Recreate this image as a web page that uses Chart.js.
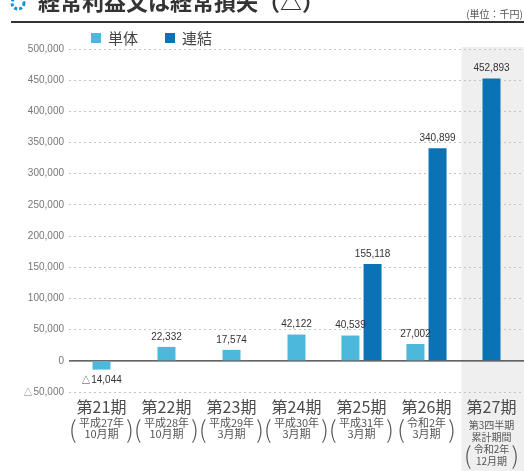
<!DOCTYPE html>
<html lang="ja">
<head>
<meta charset="utf-8">
<script src="https://cdn.jsdelivr.net/npm/chart.js@4.4.1/dist/chart.umd.min.js"></script>
<style>
  html, body { margin: 0; padding: 0; background: #fff; }
</style>
</head>
<body>
<canvas id="keijo" width="524" height="471"></canvas>
<script>
const kiLabels = ['第21期', '第22期', '第23期', '第24期', '第25期', '第26期', '第27期'];
const kiNotes = [
  ['平成27年', '10月期'],
  ['平成28年', '10月期'],
  ['平成29年', '3月期'],
  ['平成30年', '3月期'],
  ['平成31年', '3月期'],
  ['令和2年', '3月期'],
  ['令和2年', '12月期']
];
const kiNotePrefix = ['第3四半期', '累計期間']; // 第27期だけ上に2行
const tantai = [-14044, 22332, 17574, 42122, 40539, 27002, null];
const renketsu = [null, null, null, null, 155118, 340899, 452893];
const seriesNames = ['単体', '連結'];
const seriesColors = ['#4cb9dc', '#0b72b5'];
const yMin = -50000, yMax = 500000, yStep = 50000;

const JP = '"Noto Sans CJK JP", "Noto Sans", sans-serif';
const NUM = '"Liberation Sans", Arial, sans-serif';

const fmt = v => (v < 0 ? '△' : '') + Math.abs(v).toLocaleString('en-US');

// 見出し・凡例・期ラベル・網掛け・0線・数値ラベル
const decor = {
  id: 'decor',
  beforeDraw(chart) {
    const { ctx } = chart;
    const xs = chart.scales.x;
    // 第27期の網掛け
    const x0 = xs.getPixelForValue(6) - 30;
    ctx.save();
    ctx.fillStyle = '#efefef';
    ctx.fillRect(x0, 47, chart.width - x0, chart.height - 47);
    ctx.restore();
  },
  beforeDatasetsDraw(chart) {
    const { ctx, chartArea } = chart;
    const y = chart.scales.y.getPixelForValue(0);
    ctx.save();
    ctx.strokeStyle = '#333';
    ctx.lineWidth = 1.2;
    ctx.beginPath();
    ctx.moveTo(chartArea.left, y);
    ctx.lineTo(chartArea.right, y);
    ctx.stroke();
    ctx.restore();
  },
  afterDatasetsDraw(chart) {
    const { ctx } = chart;
    ctx.save();
    ctx.font = '10px ' + NUM;
    ctx.fillStyle = '#333';
    ctx.textAlign = 'center';
    chart.data.datasets.forEach((ds, di) => {
      const meta = chart.getDatasetMeta(di);
      ds.data.forEach((v, i) => {
        if (v === null) return;
        const el = meta.data[i];
        if (v >= 0) {
          ctx.textBaseline = 'bottom';
          ctx.fillText(fmt(v), el.x, el.y - 5);
        } else {
          ctx.textBaseline = 'top';
          ctx.fillText(fmt(v), el.x, el.y + 6);
        }
      });
    });
    ctx.restore();
  },
  afterDraw(chart) {
    const { ctx } = chart;
    const xs = chart.scales.x;
    ctx.save();

    // タイトル
    ctx.strokeStyle = '#1a8fd1';
    ctx.lineWidth = 3;
    ctx.setLineDash([3, 2]);
    ctx.beginPath();
    ctx.arc(18, 3, 6, 0, Math.PI * 2);
    ctx.stroke();
    ctx.setLineDash([]);
    ctx.fillStyle = '#333';
    ctx.font = 'bold 22px ' + JP;
    ctx.textBaseline = 'ideographic';
    ctx.textAlign = 'left';
    ctx.fillText('経常利益又は経常損失（△）', 38, 13);

    ctx.font = '10px ' + JP;
    ctx.fillStyle = '#555';
    ctx.textAlign = 'right';
    ctx.textBaseline = 'middle';
    ctx.fillText('(単位：千円)', 523, 14);

    ctx.strokeStyle = '#333';
    ctx.lineWidth = 2;
    ctx.beginPath();
    ctx.moveTo(11, 22);
    ctx.lineTo(524, 22);
    ctx.stroke();

    // 凡例
    ctx.font = '15px ' + JP;
    ctx.textAlign = 'left';
    ctx.textBaseline = 'middle';
    [91, 165].forEach((lx, k) => {
      ctx.fillStyle = seriesColors[k];
      ctx.fillRect(lx, 33, 10, 10);
      ctx.fillStyle = '#444';
      ctx.fillText(seriesNames[k], lx + 17, 38);
    });

    // 期ラベル
    ctx.textAlign = 'center';
    kiLabels.forEach((lab, i) => {
      const cx = xs.getPixelForValue(i);
      ctx.fillStyle = '#4a4a4a';
      ctx.font = '16px ' + JP;
      ctx.fillText(lab, cx, 407);

      let lines = kiNotes[i], top = 423, step = 11, size = 11;
      if (i === 6) {
        ctx.fillStyle = '#555';
        ctx.font = '10px ' + JP;
        ctx.fillText(kiNotePrefix[0], cx, 425);
        ctx.fillText(kiNotePrefix[1], cx, 437);
        top = 449; step = 12; size = 10;
      }
      ctx.fillStyle = '#555';
      ctx.font = size + 'px ' + JP;
      ctx.fillText(lines[0], cx, top);
      ctx.fillText(lines[1], cx, top + step);
      const w = Math.max(ctx.measureText(lines[0]).width, ctx.measureText(lines[1]).width);
      ctx.font = '200 24px ' + JP;
      ctx.fillText('(', cx - w / 2 - 6, top + step / 2);
      ctx.fillText(')', cx + w / 2 + 6, top + step / 2);
    });
    ctx.restore();
  }
};

new Chart(document.getElementById('keijo'), {
  type: 'bar',
  data: {
    labels: kiLabels,
    datasets: [
      { label: seriesNames[0], data: tantai, backgroundColor: seriesColors[0] },
      { label: seriesNames[1], data: renketsu, backgroundColor: seriesColors[1] }
    ]
  },
  options: {
    responsive: false,
    animation: false,
    layout: { padding: { top: 49, bottom: 79, left: 0, right: 0 } },
    datasets: {
      bar: {
        skipNull: true,
        categoryPercentage: 0.68,
        barPercentage: 0.82,
        maxBarThickness: 18,
        borderWidth: 0
      }
    },
    plugins: {
      legend: { display: false },
      title: { display: false },
      tooltip: { enabled: false }
    },
    scales: {
      x: {
        display: false
      },
      y: {
        min: yMin,
        max: yMax,
        afterFit(scale) { scale.width = 69; },
        border: { display: false, dash: [2, 3] },
        grid: {
          drawTicks: false,
          color: c => (c.tick && c.tick.value === 0) ? 'rgba(0,0,0,0)' : '#c4c4c4',
          lineWidth: 1
        },
        ticks: {
          stepSize: yStep,
          padding: 5,
          color: '#777',
          font: { family: NUM, size: 10 },
          callback: v => fmt(v)
        }
      }
    }
  },
  plugins: [decor]
});
</script>
</body>
</html>
